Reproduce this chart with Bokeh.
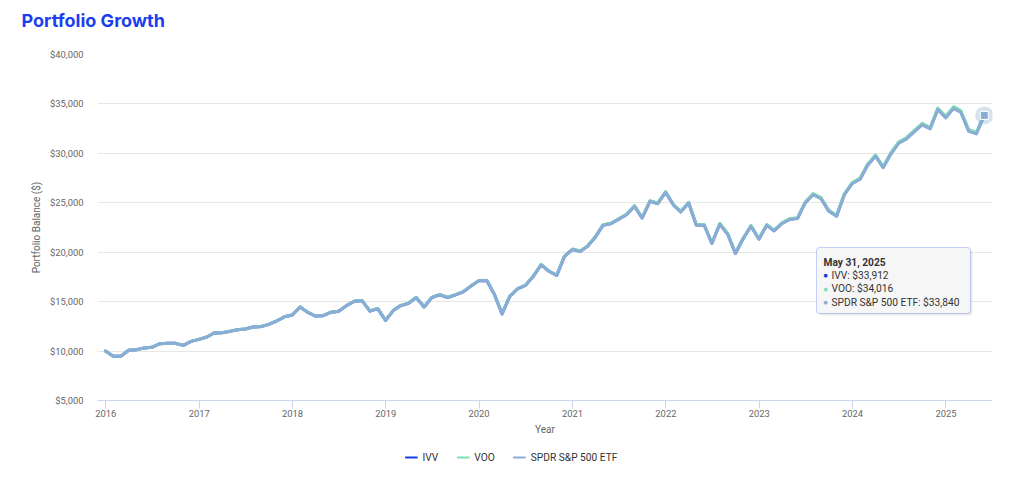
import pandas as pd
from bokeh.plotting import figure
from bokeh.layouts import column
from bokeh.models import (ColumnDataSource, Range1d, FixedTicker, NumeralTickFormatter,
                          DatetimeTickFormatter, Legend, LegendItem, BoxAnnotation, Label)
from bokeh.embed import file_html
from bokeh.resources import INLINE

# ---------------- data ----------------
TITLE = "Portfolio Growth"
START_MONTH_END = "2015-12-31"

SPDR = [10000, 9480, 9470, 10080, 10130, 10320, 10380, 10750, 10780, 10780, 10570, 10980,
        11180, 11420, 11820, 11850, 11990, 12160, 12230, 12430, 12470, 12700, 13040, 13460,
        13640, 14450, 13940, 13540, 13570, 13910, 14010, 14590, 15030, 15100, 14040, 14290,
        13090, 14110, 14590, 14830, 15410, 14450, 15410, 15680, 15410, 15680, 15980, 16560,
        17110, 17130, 15780, 13750, 15510, 16290, 16620, 17540, 18720, 18070, 17640, 19560,
        20270, 20070, 20580, 21520, 22710, 22880, 23320, 23790, 24630, 23450, 25140, 24900,
        26050, 24740, 24060, 24970, 22720, 22720, 20880, 22820, 21810, 19870, 21380, 22620,
        21310, 22720, 22150, 22890, 23300, 23400, 24970, 25820, 25410, 24160, 23630, 25800,
        26930, 27380, 28770, 29710, 28540, 29950, 31020, 31460, 32200, 32880, 32470, 34420,
        33590, 34550, 34150, 32230, 31970, 33840]

IVV = [10000, 9480, 9470, 10081, 10131, 10321, 10381, 10751, 10782, 10782, 10572, 10982,
       11182, 11423, 11823, 11853, 11994, 12164, 12234, 12434, 12475, 12705, 13045, 13466,
       13646, 14457, 13947, 13547, 13577, 13918, 14018, 14598, 15039, 15109, 14049, 14299,
       13099, 14120, 14600, 14841, 15421, 14461, 15422, 15693, 15423, 15693, 15994, 16574,
       17125, 17146, 15795, 13763, 15525, 16306, 16637, 17558, 18740, 18089, 17659, 19581,
       20293, 20093, 20604, 21545, 22737, 22908, 23349, 23820, 24661, 23480, 25173, 24933,
       26085, 24774, 24093, 25005, 22752, 22753, 20910, 22854, 21842, 19900, 21413, 22655,
       21343, 22756, 22185, 22927, 23338, 23439, 25012, 25864, 25453, 24202, 23671, 25846,
       26978, 27429, 28822, 29765, 28593, 30006, 31079, 31520, 32262, 32944, 32534, 34489,
       33658, 34620, 34220, 32297, 32037, 33912]

VOO = [10000, 9480, 9471, 10081, 10132, 10322, 10383, 10753, 10784, 10784, 10575, 10986,
       11186, 11427, 11828, 11858, 11999, 12169, 12240, 12441, 12481, 12712, 13053, 13474,
       13655, 14466, 13957, 13557, 13587, 13928, 14029, 14611, 15052, 15123, 14062, 14313,
       13111, 14134, 14615, 14856, 15438, 14477, 15439, 15711, 15441, 15712, 16014, 16596,
       17147, 17168, 15816, 13782, 15547, 16329, 16661, 17584, 18768, 18117, 17687, 19613,
       20325, 20126, 20638, 21582, 22776, 22948, 23390, 23863, 24706, 23524, 25220, 24981,
       26136, 24822, 24141, 25055, 22799, 22800, 20954, 22902, 21890, 19943, 21460, 22706,
       21392, 22808, 22237, 22981, 23393, 23495, 25072, 25927, 25517, 24262, 23731, 25912,
       27048, 27501, 28898, 29844, 28670, 30088, 31164, 31608, 32353, 33037, 32627, 34588,
       33755, 34722, 34321, 32393, 32133, 34016]

SERIES_NAMES = ["IVV", "VOO", "SPDR S&P 500 ETF"]
SERIES_COLORS = ["#1a3be0", "#7fe0b2", "#8aadd5"]
Y_TICKS = [5000, 10000, 15000, 20000, 25000, 30000, 35000, 40000]
X_TICK_YEARS = [2016, 2017, 2018, 2019, 2020, 2021, 2022, 2023, 2024, 2025]

W = 1022
FONT = "Roboto"

dates = pd.date_range(START_MONTH_END, periods=len(SPDR), freq=pd.offsets.MonthEnd())
source = ColumnDataSource(dict(date=dates, IVV=IVV, VOO=VOO, SPDR=SPDR))
series_cols = ["IVV", "VOO", "SPDR"]
series_vals = [IVV, VOO, SPDR]


def bare_figure(height):
    f = figure(width=W, height=height, x_range=Range1d(0, 1), y_range=Range1d(0, 1),
               x_axis_location=None, y_axis_location=None,
               output_backend="svg", toolbar_location=None,
               min_border_left=0, min_border_right=0, min_border_top=0, min_border_bottom=0)
    if "frame_align" in f.properties():
        f.frame_align = False
    f.grid.visible = False
    f.outline_line_color = None
    f.background_fill_color = "white"
    f.border_fill_color = "white"
    return f


# ---------------- title strip ----------------
pt = bare_figure(40)
pt.add_layout(Label(x=21, y=20, x_units="canvas", y_units="canvas", text=TITLE,
                    text_font="Inter", text_font_size="18px", text_font_style="bold",
                    text_color="#1b3ff0", text_baseline="middle"))

# ---------------- main chart ----------------
p = figure(width=W, height=400, x_axis_type="datetime",
           x_range=Range1d(dates[0] - pd.Timedelta(days=31), dates[-1] + pd.Timedelta(days=32)),
           y_range=Range1d(Y_TICKS[0], Y_TICKS[-1]),
           output_backend="svg", toolbar_location=None,
           min_border_left=97, min_border_right=30, min_border_top=14, min_border_bottom=40)
if "frame_align" in p.properties():
    p.frame_align = False
p.outline_line_color = None
p.background_fill_color = "white"
p.border_fill_color = "white"

# x axis
xa = p.xaxis[0]
xa.ticker = FixedTicker(ticks=[pd.Timestamp(f"{y}-01-01").value // 10**6 for y in X_TICK_YEARS])
xa.formatter = DatetimeTickFormatter(years="%Y", months="%Y", days="%Y")
xa.axis_line_color = "#ccd6eb"
xa.major_tick_line_color = "#ccd6eb"
xa.major_tick_out = 8
xa.major_tick_in = 0
xa.minor_tick_line_color = None
xa.major_label_standoff = 1
xa.major_label_text_font = FONT
xa.major_label_text_font_size = "9.4px"
xa.major_label_text_color = "#666666"
xa.axis_label = "Year"
xa.axis_label_text_font = FONT
xa.axis_label_text_font_size = "10px"
xa.axis_label_text_font_style = "normal"
xa.axis_label_text_color = "#666666"
xa.axis_label_standoff = 4

# y axis
ya = p.yaxis[0]
ya.ticker = FixedTicker(ticks=Y_TICKS)
ya.formatter = NumeralTickFormatter(format="$0,0")
ya.axis_line_color = None
ya.major_tick_line_color = None
ya.minor_tick_line_color = None
ya.major_tick_out = 0
ya.major_tick_in = 0
ya.major_label_standoff = 14
ya.major_label_text_font = FONT
ya.major_label_text_font_size = "9.4px"
ya.major_label_text_color = "#666666"
ya.axis_label = "Portfolio Balance ($)"
ya.axis_label_text_font = FONT
ya.axis_label_text_font_size = "10px"
ya.axis_label_text_font_style = "normal"
ya.axis_label_text_color = "#666666"
ya.axis_label_standoff = 5

p.xgrid.visible = False
p.ygrid.grid_line_color = "#e6e6e6"
p.ygrid.grid_line_width = 1

# lines
for col, color in zip(series_cols, SERIES_COLORS):
    p.line("date", col, source=source, line_color=color, line_width=3,
           line_join="round", line_cap="round")

# hover state marker on last point of the top series
p.scatter([dates[-1]], [SPDR[-1]], size=18, fill_color=SERIES_COLORS[2], fill_alpha=0.35,
          line_color=None)
p.scatter([dates[-1]], [SPDR[-1]], marker="square", size=8, fill_color=SERIES_COLORS[2],
          line_color="white", line_width=1)

# tooltip (static hover state), canvas coordinates of the main chart
TT_L, TT_R, TT_T, TT_B = 816, 970, 207, 273
shadow = BoxAnnotation(left=TT_L + 2, right=TT_R + 2, top=TT_T + 2, bottom=TT_B + 2,
                       left_units="canvas", right_units="canvas", top_units="canvas",
                       bottom_units="canvas", fill_color="#000000", fill_alpha=0.08,
                       line_color=None, border_radius=3)
box = BoxAnnotation(left=TT_L, right=TT_R, top=TT_T, bottom=TT_B,
                    left_units="canvas", right_units="canvas", top_units="canvas",
                    bottom_units="canvas", fill_color="#f7f7f7", fill_alpha=0.95,
                    line_color="#4a66e6", line_width=1, border_radius=3)
p.add_layout(shadow)
p.add_layout(box)

p.add_layout(Label(x=TT_L + 7, y=TT_T + 15, x_units="canvas", y_units="canvas",
                   text=dates[-1].strftime("%b %d, %Y"), text_font=FONT,
                   text_font_size="10.2px", text_font_style="bold", text_color="#333333",
                   text_baseline="middle"))
for k, (name, vals, color) in enumerate(zip(SERIES_NAMES, series_vals, SERIES_COLORS)):
    yy = TT_T + 27.5 + k * 13.5
    p.add_layout(Label(x=TT_L + 9, y=yy, x_units="canvas", y_units="canvas", text="\u25cf",
                       text_font=FONT, text_font_size="8.5px", text_color=color,
                       text_align="center", text_baseline="middle"))
    p.add_layout(Label(x=TT_L + 15, y=yy, x_units="canvas", y_units="canvas",
                       text=f"{name}: ${vals[-1]:,.0f}", text_font=FONT,
                       text_font_size="10.2px", text_color="#333333",
                       text_baseline="middle"))

# ---------------- legend strip ----------------
pl = bare_figure(34)
# proxies for the legend swatches: the same series, lying outside this strip's ranges
legend_renderers = [pl.line("date", col, source=source, line_color=c, line_width=2)
                    for col, c in zip(series_cols, SERIES_COLORS)]
legend = Legend(items=[LegendItem(label=n, renderers=[r])
                       for n, r in zip(SERIES_NAMES, legend_renderers)],
                orientation="horizontal", location="center",
                glyph_width=13, glyph_height=10, label_height=12, label_width=10,
                padding=2, spacing=18, label_standoff=5, margin=0,
                border_line_color=None, background_fill_alpha=0,
                label_text_font=FONT, label_text_font_size="10.2px",
                label_text_color="#333333")
pl.add_layout(legend, "center")

layout = column(pt, p, pl, spacing=0)
open("out.html", "w").write(file_html(layout, INLINE))
